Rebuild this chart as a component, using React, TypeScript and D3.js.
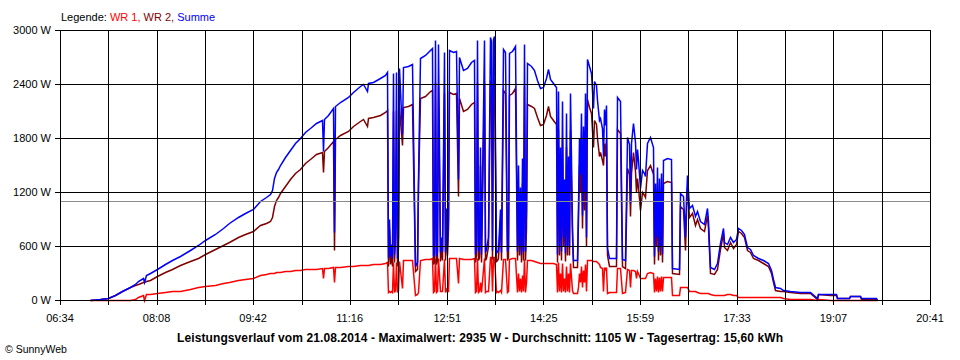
import React from 'react'
import * as d3 from 'd3'

// minutes since midnight, one reading per entry (values in W)
const times = [
  423, 433, 441, 448, 454, 462, 467, 470, 475, 476, 478, 482, 488, 496, 503, 511, 521, 528, 535, 545,
  553, 559, 567, 574, 582, 589, 595, 598, 600, 602, 604, 606, 608, 613, 618, 623, 628, 633, 637, 643,
  649, 650, 651, 655, 660, 661, 662, 667, 674, 679, 686, 689, 693, 694, 699, 706, 710, 712, 713, 714,
  715, 716, 717, 718, 719, 720, 721, 722, 723, 724, 727, 728, 733, 737, 740, 742, 743, 744, 749, 754,
  756, 757, 758, 759, 760, 761, 762, 764, 765, 766, 768, 769, 770, 771, 772, 773, 777, 780, 781, 782,
  786, 790, 794, 797, 798, 799, 800, 801, 802, 803, 804, 807, 808, 809, 811, 813, 814, 815, 816, 817,
  818, 819, 820, 822, 823, 825, 827, 829, 830, 831, 834, 837, 839, 840, 841, 842, 843, 844, 845, 846,
  847, 848, 849, 853, 855, 858, 861, 864, 867, 869, 871, 874, 877, 878, 879, 880, 881, 882, 883, 884,
  885, 886, 887, 888, 889, 890, 891, 892, 893, 897, 898, 899, 900, 901, 902, 903, 904, 905, 906, 907,
  909, 911, 913, 914, 916, 917, 919, 920, 922, 923, 924, 925, 926, 927, 928, 935, 936, 939, 941, 944,
  946, 948, 949, 950, 952, 954, 955, 956, 957, 959, 961, 963, 964, 965, 968, 971, 972, 973, 974, 975,
  976, 977, 978, 979, 980, 981, 985, 989, 990, 997, 998, 1001, 1002, 1003, 1004, 1006, 1009, 1012, 1014, 1017,
  1021, 1024, 1025, 1027, 1031, 1034, 1037, 1039, 1040, 1043, 1046, 1049, 1052, 1054, 1057, 1060, 1063, 1066, 1069, 1074,
  1078, 1083, 1086, 1088, 1090, 1095, 1098, 1105, 1114, 1124, 1131, 1132, 1144, 1149, 1150, 1162, 1163, 1173, 1174, 1188,
  1189,
]

const wr1 = [
  0, 0, 0, 0, 0, 0, 15, 35, 55, 0, 65, 70, 78, 88, 97, 105, 125, 140, 155, 172,
  190, 205, 220, 235, 250, 275, 290, 295, 300, 305, 308, 310, 315, 320, 325, 330, 335, 340, 345, 350,
  355, 240, 355, 360, 365, 200, 365, 370, 378, 382, 388, 390, 390, 392, 395, 405, 415, 420, 90, 100,
  85, 100, 90, 425, 90, 110, 425, 85, 110, 435, 130, 440, 442, 445, 60, 70, 90, 450, 455, 460,
  465, 90, 100, 470, 90, 100, 470, 100, 95, 100, 460, 90, 120, 95, 100, 467, 465, 465, 190, 462,
  460, 458, 460, 462, 90, 100, 470, 90, 100, 200, 90, 470, 90, 95, 100, 475, 480, 95, 480, 480,
  90, 100, 85, 110, 90, 455, 455, 90, 100, 460, 462, 465, 90, 300, 100, 250, 90, 280, 100, 460,
  90, 200, 450, 440, 430, 420, 415, 412, 412, 410, 410, 408, 405, 90, 420, 100, 300, 90, 410, 100,
  250, 90, 380, 100, 300, 90, 410, 110, 80, 80, 150, 300, 200, 380, 150, 330, 200, 400, 100, 450,
  445, 440, 435, 435, 430, 420, 400, 370, 360, 100, 370, 350, 370, 80, 90, 90, 360, 355, 80, 90,
  340, 335, 150, 330, 330, 325, 250, 320, 300, 240, 245, 240, 240, 300, 310, 300, 90, 250, 100, 270,
  90, 260, 100, 265, 95, 260, 260, 258, 56, 60, 150, 145, 140, 140, 150, 100, 95, 95, 92, 80,
  78, 78, 78, 65, 60, 60, 60, 60, 60, 62, 62, 60, 58, 35, 35, 35, 33, 33, 32, 32,
  32, 32, 30, 30, 30, 28, 18, 12, 10, 8, 5, 6, 5, 5, 4, 4, 3, 3, 2, 2,
  0,
]

const wr2 = [
  5, 10, 20, 55, 95, 140, 165, 180, 195, 200, 210, 225, 265, 310, 350, 385, 430, 470, 510, 565,
  615, 650, 700, 730, 765, 830, 860, 880, 920, 1050, 1110, 1150, 1190, 1270, 1345, 1410, 1460, 1525, 1570, 1620,
  1650, 1420, 1660, 1700, 1770, 560, 1790, 1830, 1880, 1930, 1990, 2010, 1930, 2020, 2030, 2060, 2090, 2110, 380, 800,
  400, 520, 380, 2100, 420, 700, 2110, 380, 600, 2140, 1720, 2150, 2160, 2175, 320, 350, 1250, 2240, 2270, 2320,
  2330, 400, 420, 2420, 400, 450, 2380, 430, 600, 450, 2300, 440, 900, 500, 800, 2310, 2290, 2300, 1160, 2240,
  2100, 2120, 2180, 2200, 420, 500, 2420, 450, 480, 1500, 420, 2420, 440, 470, 600, 2445, 2400, 460, 2420, 2455,
  430, 450, 470, 900, 440, 2330, 2300, 450, 480, 2280, 2300, 2360, 450, 1200, 500, 1000, 420, 1300, 450, 2380,
  450, 800, 2180, 2160, 2130, 2030, 1940, 1960, 2060, 2160, 2050, 2000, 1960, 420, 1900, 500, 1400, 450, 1800, 600,
  1100, 430, 1700, 500, 1300, 500, 1890, 700, 370, 370, 900, 1500, 1200, 1700, 800, 1600, 1000, 1900, 600, 2230,
  2150, 2080, 1700, 2000, 1960, 1800, 1600, 1650, 1550, 1500, 1750, 1600, 1800, 500, 380, 380, 1900, 1860, 380, 360,
  1470, 1400, 930, 1410, 1640, 1430, 1200, 1360, 1250, 1000, 1200, 1170, 1140, 1440, 1500, 1400, 400, 1050, 600, 1210,
  450, 1100, 500, 1150, 420, 1300, 1320, 1310, 300, 290, 1040, 1015, 560, 980, 1240, 920, 965, 835, 900, 800,
  762, 940, 800, 300, 290, 350, 570, 740, 590, 560, 640, 580, 620, 765, 740, 700, 560, 530, 470, 440,
  410, 380, 300, 200, 115, 100, 95, 84, 80, 79, 15, 62, 61, 61, 21, 21, 40, 40, 16, 16,
  0,
]

// Summe = WR 1 + WR 2
const summe = wr1.map((v, i) => v + wr2[i])

const xTickLabels = ['06:34', '08:08', '09:42', '11:16', '12:51', '14:25', '15:59', '17:33', '19:07', '20:41']
const yTicks = [0, 600, 1200, 1800, 2400, 3000]
const average = 1105
const title = 'Leistungsverlauf vom 21.08.2014 - Maximalwert: 2935 W - Durchschnitt: 1105 W - Tagesertrag: 15,60 kWh'

const toMin = (s: string) => {
  const [h, m] = s.split(':').map(Number)
  return h * 60 + m
}

export default function App() {
  const width = 960
  const height = 360
  const left = 60, right = 930, top = 30, bottom = 300
  const font = 'Liberation Sans, Arial, sans-serif'

  const t0 = toMin(xTickLabels[0])
  const t1 = toMin(xTickLabels[xTickLabels.length - 1])
  const x = d3.scaleLinear().domain([t0, t1]).range([left, right])
  const y = d3.scaleLinear().domain([0, 3000]).range([bottom, top])

  // gridlines every half label step
  const gridTimes = d3.range(19).map(i => t0 + (i * (t1 - t0)) / 18)

  const line = (vals: number[]) =>
    d3.line<number>()
      .x((_, i) => Math.round(x(times[i])) + 0.5)
      .y(d => Math.round(y(d)) + 0.5)(vals) || ''

  return (
    <svg width={width} height={height} style={{ position: 'absolute', left: 0, top: 0, background: '#fff' }}>
      <rect width={width} height={height} fill="#fff" />

      <text x={61} y={21} fontFamily={font} fontSize={11}>
        <tspan fill="#000">Legende: </tspan>
        <tspan fill="#ff0000">WR 1, </tspan>
        <tspan fill="#800000">WR 2, </tspan>
        <tspan fill="#0000ff">Summe</tspan>
      </text>

      <g fill="none" strokeWidth={1.5} strokeLinejoin="miter">
        <path d={line(wr1)} stroke="#ff0000" />
        <path d={line(wr2)} stroke="#800000" />
        <path d={line(summe)} stroke="#0000ff" />
      </g>

      <line x1={left} x2={right} y1={Math.round(y(average)) + 0.5} y2={Math.round(y(average)) + 0.5}
        stroke="#8c8c8c" strokeWidth={1} />

      <g stroke="#000" strokeWidth={1} shapeRendering="crispEdges">
        {gridTimes.map((t, i) => (
          <line key={'v' + i} x1={Math.round(x(t)) + 0.5} x2={Math.round(x(t)) + 0.5} y1={top} y2={bottom + 5} />
        ))}
        {yTicks.map(v => (
          <line key={'h' + v} x1={left - 5} x2={right} y1={Math.round(y(v)) + 0.5} y2={Math.round(y(v)) + 0.5} />
        ))}
      </g>

      {yTicks.map(v => (
        <text key={'yl' + v} x={51} y={y(v) + 4} textAnchor="end" fontFamily={font} fontSize={11}>
          {v} W
        </text>
      ))}
      {xTickLabels.map(l => (
        <text key={'xl' + l} x={x(toMin(l))} y={322} textAnchor="middle" fontFamily={font} fontSize={11}>
          {l}
        </text>
      ))}

      <text x={480} y={342} textAnchor="middle" fontFamily={font} fontSize={12} fontWeight="bold"
        textLength={606} lengthAdjust="spacing">
        {title}
      </text>
      <text x={5} y={353} fontFamily={font} fontSize={10.5}>© SunnyWeb</text>
    </svg>
  )
}
